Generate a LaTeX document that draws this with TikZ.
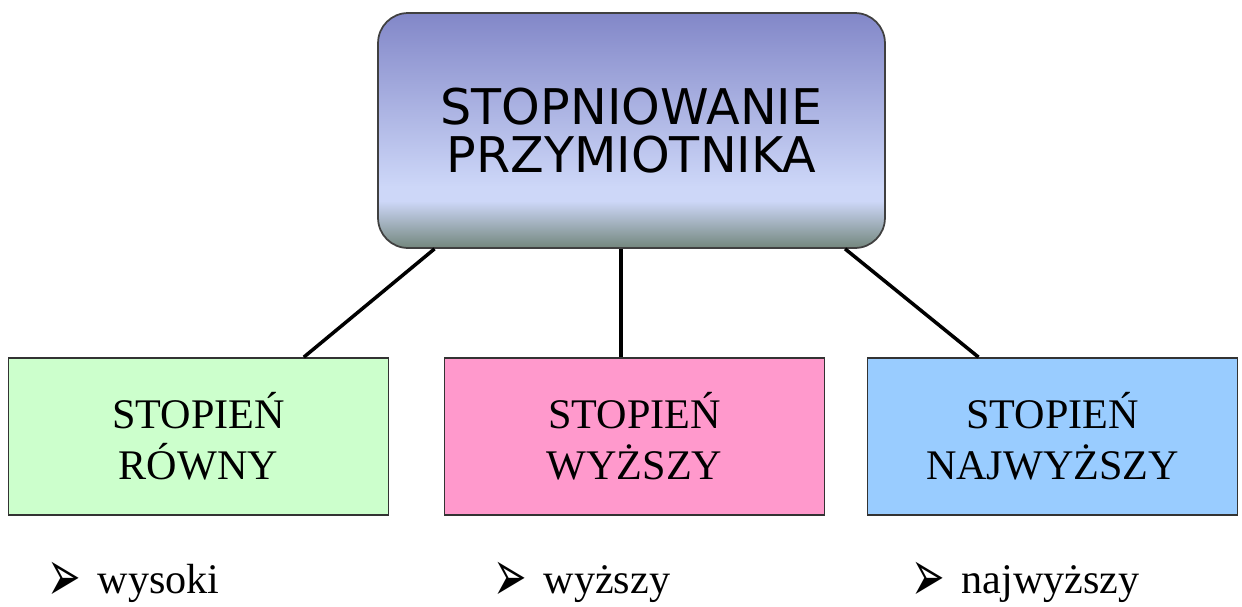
\documentclass[tikz,border=0pt]{standalone}
\usepackage{fontspec}
\setmainfont{Liberation Serif}
\newfontfamily\dejavu{DejaVu Sans}

\definecolor{roottop}{RGB}{130,135,200}
\definecolor{rootlight}{RGB}{205,215,248}
\definecolor{rootbottom}{RGB}{115,135,125}
\definecolor{greenfill}{RGB}{204,255,204}
\definecolor{pinkfill}{RGB}{255,153,204}
\definecolor{bluefill}{RGB}{153,204,255}

\pgfdeclareverticalshading{rootshade}{100bp}{
    color(0bp)=(rootbottom); color(25bp)=(rootbottom);
    color(35bp)=(rootlight); color(38bp)=(rootlight);
    color(75bp)=(roottop); color(100bp)=(roottop)}

\newcommand\bulletarrow{\raisebox{-5pt}[14pt][0pt]{\scalebox{0.95}[1.75]{\dejavu ➢}}\hspace{0.34cm}}

\begin{document}
\begin{tikzpicture}
    [x=0.02cm, y=-0.02cm,
    every node/.style={align=center},
    rootbox/.style={
        draw=black!75, line width=1pt, rounded corners=0.6cm,
        shade, shading=rootshade,
        minimum width=10.14cm, minimum height=4.7cm,
        font=\dejavu\fontsize{28}{27}\selectfont},
    degreebox/.style={
        draw=black!80, line width=1pt,
        minimum width=7.6cm, minimum height=3.14cm,
        font=\fontsize{24}{29}\selectfont},
    example/.style={anchor=base west, inner sep=1pt, font=\fontsize{24}{29}\selectfont},
    connector/.style={line width=2pt}
    ]
    \useasboundingbox (0,0) rectangle (1242,606);

    \node (root) [rootbox] at (631.5,130.5) {STOPNIOWANIE\\PRZYMIOTNIKA};

    \node (rowny) [degreebox, fill=greenfill] at (198.5,436.5) {STOPIEŃ\\RÓWNY};
    \node (wyzszy) [degreebox, fill=pinkfill] at (634.5,436.5) {STOPIEŃ\\WYŻSZY};
    \node (najwyzszy) [degreebox, fill=bluefill, minimum width=7.4cm] at (1052.5,436.5) {STOPIEŃ\\NAJWYŻSZY};

    \draw[connector] (root.211.9) -- (rowny.37.3);
    \draw[connector] (root.265.4) -- (root.265.4 |- wyzszy.north);
    \draw[connector] (root.331.5) -- (najwyzszy.133.5);

    % examples under the boxes
    \node (exrowny) [example] at (45,593) {\bulletarrow wysoki};
    \node (exwyzszy) [example] at (491,593) {\bulletarrow wyższy};
    \node (exnajwyzszy) [example] at (909,593) {\bulletarrow najwyższy};
\end{tikzpicture}
\end{document}
